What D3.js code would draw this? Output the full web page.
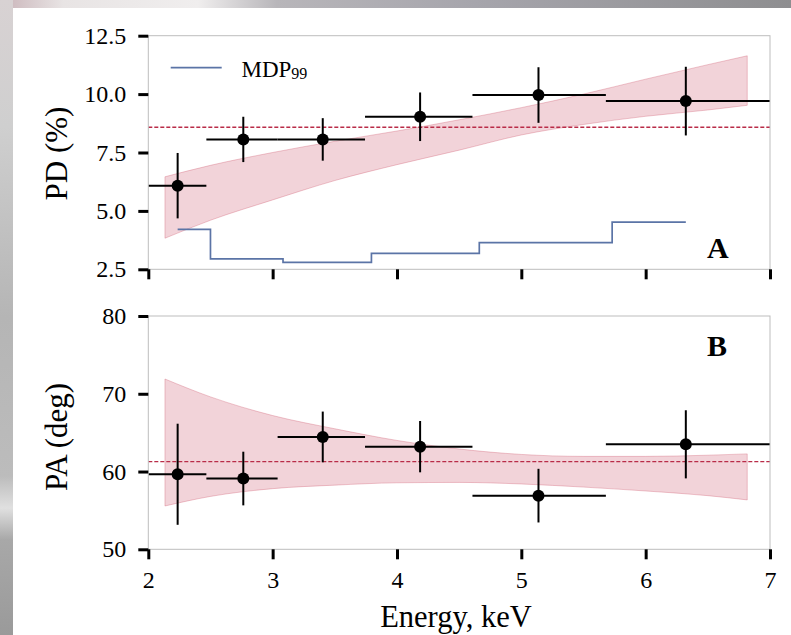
<!DOCTYPE html>
<html>
<head>
<meta charset="utf-8">
<script src="https://cdn.jsdelivr.net/npm/d3@7"></script>
<style>
  html, body { margin: 0; padding: 0; background: #fff; }
  svg { display: block; }
  svg text { font-family: "Liberation Serif", "DejaVu Serif", serif !important; }
</style>
</head>
<body>
<svg id="chart" width="791" height="635"></svg>
<script>
// ---------- data ----------
const energy   = [2.236, 2.764, 3.403, 4.186, 5.138, 6.323];
const binEdges = [2.0, 2.467, 3.04, 3.743, 4.607, 5.68, 7.0];
const pd       = [6.08, 8.06, 8.06, 9.03, 9.96, 9.70];
const pdErr    = [1.40, 0.97, 0.91, 1.04, 1.19, 1.47];
const pa       = [59.65, 59.1, 64.45, 63.2, 56.9, 63.5];
const paErr    = [6.5, 3.45, 3.26, 3.3, 3.45, 4.38];
const mdp99    = [4.21, 2.95, 2.80, 3.18, 3.64, 4.52];
const pdMean = 8.58;
const paMean = 61.27;
const bandE   = [2.134, 2.5, 3.0, 3.5, 4.0, 4.5, 5.0, 5.5, 6.0, 6.5, 6.817];
const pdBandHi = [6.46, 6.95, 7.5, 7.98, 8.42, 8.9, 9.42, 10.0, 10.64, 11.26, 11.64];
const pdBandLo = [3.83, 4.6, 5.47, 6.3, 6.98, 7.6, 8.25, 8.7, 9.05, 9.32, 9.52];
const paBandHi = [71.9, 69.6, 67.2, 65.5, 64.0, 62.9, 62.2, 61.95, 61.95, 62.1, 62.27];
const paBandLo = [55.57, 56.8, 57.8, 58.25, 58.55, 58.6, 58.4, 58.0, 57.5, 56.9, 56.35];
const xTicks  = [2, 3, 4, 5, 6, 7];
const pdTicks = [2.5, 5.0, 7.5, 10.0, 12.5];
const paTicks = [50, 60, 70, 80];

// ---------- layout ----------
const svg = d3.select("#chart");
const W = 791, H = 635;
const serif = '"Liberation Serif", "DejaVu Serif", serif';

// background (blurred photo approximation)
const defs = svg.append("defs");
const gTop = defs.append("linearGradient").attr("id", "gTop");
[[0, "#c9b3b8"], [0.08, "#e8e4e4"], [0.25, "#f0eeee"], [0.35, "#b8b6ba"], [0.6, "#a6a5ac"], [1, "#8e8e90"]]
  .forEach(([o, c]) => gTop.append("stop").attr("offset", o).attr("stop-color", c));
const gLeft = defs.append("linearGradient").attr("id", "gLeft").attr("x1", 0).attr("y1", 0).attr("x2", 0).attr("y2", 1);
[[0, "#d8d2d3"], [0.2, "#cfcfcf"], [0.5, "#b5b5b5"], [0.75, "#bcbcbc"], [0.8, "#e0e0e0"], [0.85, "#a8a8a8"], [1, "#9a9a9a"]]
  .forEach(([o, c]) => gLeft.append("stop").attr("offset", o).attr("stop-color", c));
svg.append("rect").attr("x", 0).attr("y", 0).attr("width", W).attr("height", 8).attr("fill", "url(#gTop)");
svg.append("rect").attr("x", 0).attr("y", 0).attr("width", 13).attr("height", H).attr("fill", "url(#gLeft)");
svg.append("rect").attr("x", 13).attr("y", 8).attr("width", W - 13).attr("height", H - 8).attr("fill", "#ffffff");

const x = d3.scaleLinear().domain([2, 7]).range([148.3, 770]);
const yPD = d3.scaleLinear().domain([2.5, 12.5]).range([269.3, 35.7]);
const yPA = d3.scaleLinear().domain([50, 80]).range([549.3, 316]);

const bandColor = "#c9485f";
const meanColor = "#b92c48";
const mdpColor = "#5b74a6";

function panel(y, ticks, fmt, vals, errs, bandHi, bandLo, mean, showXLabels) {
  const g = svg.append("g");
  const area = d3.area()
    .x((d, i) => x(bandE[i]))
    .y0((d, i) => y(bandLo[i]))
    .y1((d, i) => y(bandHi[i]))
    .curve(d3.curveMonotoneX);
  g.append("path").datum(bandE).attr("d", area)
    .attr("fill", bandColor).attr("fill-opacity", 0.24)
    .attr("stroke", bandColor).attr("stroke-opacity", 0.3).attr("stroke-width", 1);
  g.append("line")
    .attr("x1", x(2)).attr("x2", x(7))
    .attr("y1", y(mean)).attr("y2", y(mean))
    .attr("stroke", meanColor).attr("stroke-width", 1.4)
    .attr("stroke-dasharray", "4,2");
  const eb = g.append("g").attr("stroke", "#000").attr("stroke-width", 2);
  energy.forEach((e, i) => {
    eb.append("line").attr("x1", x(binEdges[i])).attr("x2", x(binEdges[i + 1]))
      .attr("y1", y(vals[i])).attr("y2", y(vals[i]));
    eb.append("line").attr("x1", x(e)).attr("x2", x(e))
      .attr("y1", y(vals[i] - errs[i])).attr("y2", y(vals[i] + errs[i]));
  });
  g.selectAll("circle.pt").data(energy).join("circle").attr("class", "pt")
    .attr("cx", d => x(d)).attr("cy", (d, i) => y(vals[i])).attr("r", 6).attr("fill", "#000");
  const [y0, y1] = y.range();
  g.append("rect").attr("x", x(2)).attr("y", y1).attr("width", x(7) - x(2)).attr("height", y0 - y1)
    .attr("fill", "none").attr("stroke", "#bdbdbd").attr("stroke-width", 1);
  const ay = g.append("g").attr("transform", `translate(${x(2)},0)`)
    .call(d3.axisLeft(y).tickValues(ticks).tickFormat(fmt).tickSize(10).tickPadding(12));
  const ax = g.append("g").attr("transform", `translate(0,${y0})`)
    .call(d3.axisBottom(x).tickValues(xTicks).tickFormat(showXLabels ? d3.format("d") : () => "").tickSize(10).tickPadding(12));
  [ay, ax].forEach(a => {
    a.attr("font-family", null).attr("font-size", null);
    a.select(".domain").remove();
    a.selectAll(".tick line").attr("stroke", "#000").attr("stroke-width", 3);
    a.selectAll(".tick text").style("font-family", serif).style("font-size", "24px").attr("fill", "#000");
  });
  return g;
}

const gA = panel(yPD, pdTicks, d3.format(".1f"), pd, pdErr, pdBandHi, pdBandLo, pdMean, false);
gA.insert("path", "g")
  .datum(energy)
  .attr("d", d3.line().x(d => x(d)).y((d, i) => yPD(mdp99[i])).curve(d3.curveStep))
  .attr("fill", "none").attr("stroke", mdpColor).attr("stroke-width", 1.7);

const gB = panel(yPA, paTicks, d3.format("d"), pa, paErr, paBandHi, paBandLo, paMean, true);

// legend
svg.append("line").attr("x1", 170.7).attr("x2", 221.7).attr("y1", 67.7).attr("y2", 67.7)
  .attr("stroke", mdpColor).attr("stroke-width", 1.7);
const lt = svg.append("text").attr("x", 241.5).attr("y", 76.5).style("font-family", serif).style("font-size", "23px").attr("fill", "#000");
lt.append("tspan").text("MDP");
lt.append("tspan").style("font-size", "16px").attr("dy", 2.5).text("99");

// panel letters
svg.append("text").attr("x", 707).attr("y", 258).style("font-family", serif).style("font-size", "30px")
  .style("font-weight", "bold").text("A");
svg.append("text").attr("x", 707).attr("y", 356).style("font-family", serif).style("font-size", "30px")
  .style("font-weight", "bold").text("B");

// axis labels
svg.append("text").attr("transform", "translate(66.5,153.5) rotate(-90)").attr("text-anchor", "middle")
  .style("font-family", serif).style("font-size", "31px").text("PD (%)");
svg.append("text").attr("transform", "translate(66.5,437) rotate(-90)").attr("text-anchor", "middle")
  .style("font-family", serif).style("font-size", "31px").text("PA (deg)");
svg.append("text").attr("x", 456).attr("y", 626.5).attr("text-anchor", "middle")
  .style("font-family", serif).style("font-size", "30.5px").text("Energy, keV");
</script>
</body>
</html>
